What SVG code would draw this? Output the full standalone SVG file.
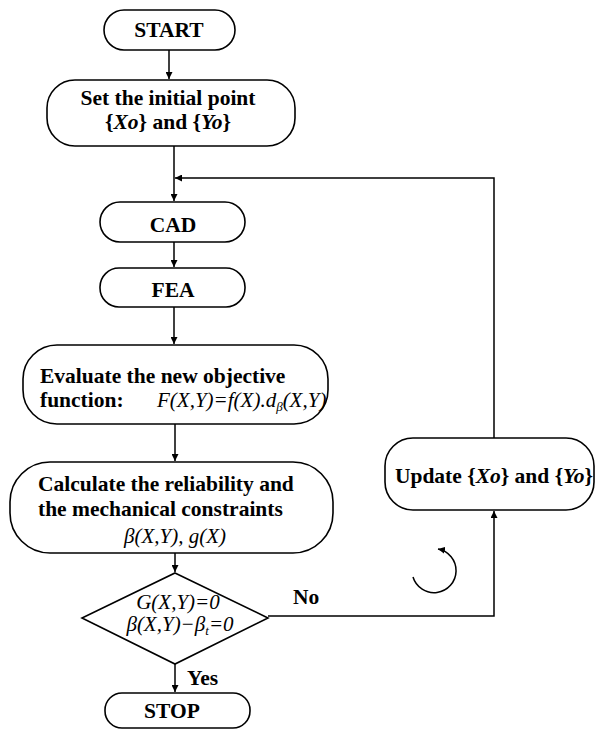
<svg xmlns="http://www.w3.org/2000/svg" width="596" height="731" viewBox="0 0 596 731">
<defs>
<marker id="ah" viewBox="0 0 10 10" refX="10" refY="5" markerWidth="7" markerHeight="7" orient="auto" markerUnits="userSpaceOnUse">
<path d="M0,0 L10,5 L0,10 Z" fill="#000"/>
</marker>
<style>
.box{fill:#fff;stroke:#000;stroke-width:1.6}
.ln{fill:none;stroke:#000;stroke-width:1.5}
.b{font-family:"Liberation Serif",serif;font-weight:bold;font-size:21.5px;fill:#000}
.i{font-family:"Liberation Serif",serif;font-style:italic;font-weight:normal;font-size:21px;fill:#000}
.bi{font-style:italic}
.sub{font-size:13px}
</style>
</defs>
<rect width="596" height="731" fill="#fff"/>
<g id="connectors">
<path class="ln" d="M169,50 V79" marker-end="url(#ah)"/>
<path class="ln" d="M174,146 V201" marker-end="url(#ah)"/>
<path class="ln" d="M494,438 V178 H175" marker-end="url(#ah)"/>
<path class="ln" d="M174,242 V267" marker-end="url(#ah)"/>
<path class="ln" d="M174,307 V344" marker-end="url(#ah)"/>
<path class="ln" d="M175,424 V461" marker-end="url(#ah)"/>
<path class="ln" d="M175,553 V572" marker-end="url(#ah)"/>
<path class="ln" d="M175,664 V692" marker-end="url(#ah)"/>
<path class="ln" d="M268,616 H494 V511" marker-end="url(#ah)"/>
<path class="ln" d="M413,577 A22,22 0 1 0 438,549" marker-end="url(#ah)"/>
</g>
<g id="start">
<rect class="box" x="104" y="10" width="131" height="40" rx="20"/>
<text class="b" x="169" y="37" text-anchor="middle">START</text>
</g>
<g id="set">
<rect class="box" x="47" y="80" width="248" height="66" rx="28"/>
<text class="b" x="168" y="105" text-anchor="middle">Set the initial point</text>
<text class="b" x="168" y="129" text-anchor="middle">{<tspan class="bi">Xo</tspan>} and {<tspan class="bi">Yo</tspan>}</text>
</g>
<g id="cad">
<rect class="box" x="100" y="202" width="145" height="40" rx="20"/>
<text class="b" x="173" y="232" text-anchor="middle">CAD</text>
</g>
<g id="fea">
<rect class="box" x="100" y="268" width="145" height="39" rx="19"/>
<text class="b" x="173" y="297" text-anchor="middle">FEA</text>
</g>
<g id="evaluate">
<rect class="box" x="23" y="345" width="305" height="79" rx="34"/>
<text class="b" x="40" y="383" font-size="22">Evaluate the new objective</text>
<text class="b" x="40" y="407" font-size="22">function:</text>
<text class="i" x="157" y="407" font-size="19.5">F(X,Y)=f(X).d<tspan class="sub" dy="4">β</tspan><tspan dy="-4">(X,Y)</tspan></text>
</g>
<g id="calculate">
<rect class="box" x="10" y="462" width="323" height="91" rx="40"/>
<text class="b" x="38" y="491">Calculate the reliability and</text>
<text class="b" x="38" y="516">the mechanical constraints</text>
<text class="i" x="175" y="543" text-anchor="middle" font-size="22">β(X,Y), g(X)</text>
</g>
<g id="decision">
<path class="box" d="M175,573 L268,618 L175,664 L82,618 Z"/>
<text class="i" x="178" y="609" text-anchor="middle" font-size="22">G(X,Y)=0</text>
<text class="i" x="180" y="631" text-anchor="middle" font-size="22">β(X,Y)−β<tspan class="sub" dy="4">t</tspan><tspan dy="-4">=0</tspan></text>
</g>
<g id="labels">
<text class="b" x="293" y="604">No</text>
<text class="b" x="187" y="685">Yes</text>
</g>
<g id="stop">
<rect class="box" x="105" y="693" width="145" height="35" rx="17"/>
<text class="b" x="172" y="718" text-anchor="middle">STOP</text>
</g>
<g id="update">
<rect class="box" x="385" y="438" width="209" height="72" rx="28"/>
<text class="b" x="494" y="483" text-anchor="middle">Update {<tspan class="bi">Xo</tspan>} and {<tspan class="bi">Yo</tspan>}</text>
</g>
</svg>
